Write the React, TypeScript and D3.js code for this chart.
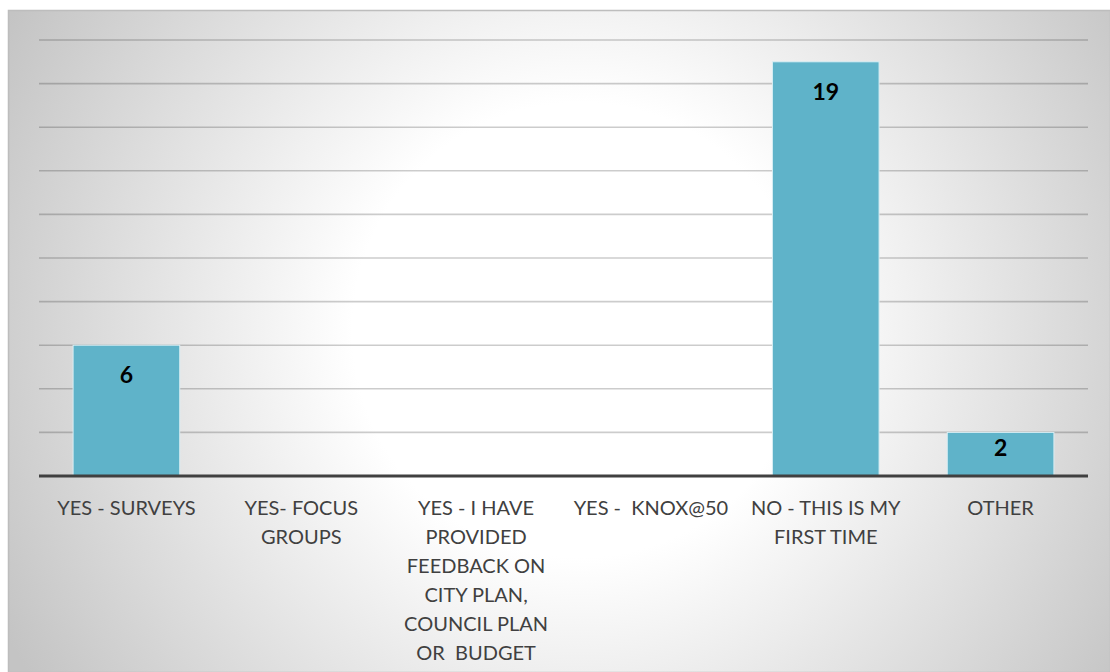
import React from "react";
import * as d3 from "d3";

const categories: string[] = [
  "YES - SURVEYS",
  "YES- FOCUS GROUPS",
  "YES - I HAVE PROVIDED FEEDBACK ON CITY PLAN, COUNCIL PLAN OR BUDGET",
  "YES - KNOX@50",
  "NO - THIS IS MY FIRST TIME",
  "OTHER",
];

const tickLines: string[][] = [
  ["YES - SURVEYS"],
  ["YES- FOCUS", "GROUPS"],
  ["YES - I HAVE", "PROVIDED", "FEEDBACK ON", "CITY PLAN,", "COUNCIL PLAN", "OR  BUDGET"],
  ["YES -  KNOX@50"],
  ["NO - THIS IS MY", "FIRST TIME"],
  ["OTHER"],
];

const counts: (number | null)[] = [6, null, null, null, 19, 2];

const gridTicks: number[] = [2, 4, 6, 8, 10, 12, 14, 16, 18, 20];

const W = 1110;
const H = 672;
const left = 39;
const right = 1088;
const top = 40;
const baseline = 476;

export default function App() {
  const x = d3.scaleBand<number>()
    .domain(d3.range(categories.length))
    .range([left, right])
    .paddingInner(0.39)
    .paddingOuter(0.195);

  const y = d3.scaleLinear().domain([0, 20]).range([baseline, top]);

  const font = "Lato, 'Open Sans', sans-serif";

  return (
    <svg width={W} height={H} style={{ position: "absolute", left: 0, top: 0 }}>
      <defs>
        <radialGradient id="bg" gradientUnits="userSpaceOnUse" cx={580} cy={330} r={650}>
          <stop offset="0" stopColor="#ffffff" />
          <stop offset="0.35" stopColor="#ffffff" />
          <stop offset="1" stopColor="#c4c4c4" />
        </radialGradient>
      </defs>
      <rect x={0} y={0} width={W} height={H} fill="#ffffff" />
      <rect x={8.5} y={10.5} width={W - 8} height={H - 10} fill="url(#bg)" stroke="#bdbdbd" strokeWidth={1.5} />

      {gridTicks.map((t) => (
        <line key={t} x1={left} x2={right} y1={y(t)} y2={y(t)} stroke="#000" strokeOpacity={0.2} strokeWidth={1.6} />
      ))}

      {counts.map((v, i) =>
        v == null ? null : (
          <g key={i}>
            <rect
              x={x(i)!}
              y={y(v)}
              width={x.bandwidth()}
              height={baseline - y(v)}
              fill="#5fb3c9"
              stroke="#d8eef4"
              strokeWidth={1}
            />
            <text
              x={x(i)! + x.bandwidth() / 2}
              y={y(v) + Math.min(30, (baseline - y(v)) * 0.36)}
              dy="0.36em"
              textAnchor="middle"
              fontFamily={font}
              fontWeight="bold"
              fontSize={23}
              fill="#000"
            >
              {v}
            </text>
          </g>
        )
      )}

      <line x1={left} x2={right} y1={baseline} y2={baseline} stroke="#404040" strokeWidth={3} />

      {tickLines.map((lines, i) => (
        <text
          key={i}
          x={x(i)! + x.bandwidth() / 2}
          textAnchor="middle"
          fontFamily={font}
          fontSize={20}
          fill="#404040"
          style={{ whiteSpace: "pre" }}
        >
          {lines.map((ln, j) => (
            <tspan key={j} x={x(i)! + x.bandwidth() / 2} y={508 + j * 29} dy="0.35em">
              {ln}
            </tspan>
          ))}
        </text>
      ))}
    </svg>
  );
}
